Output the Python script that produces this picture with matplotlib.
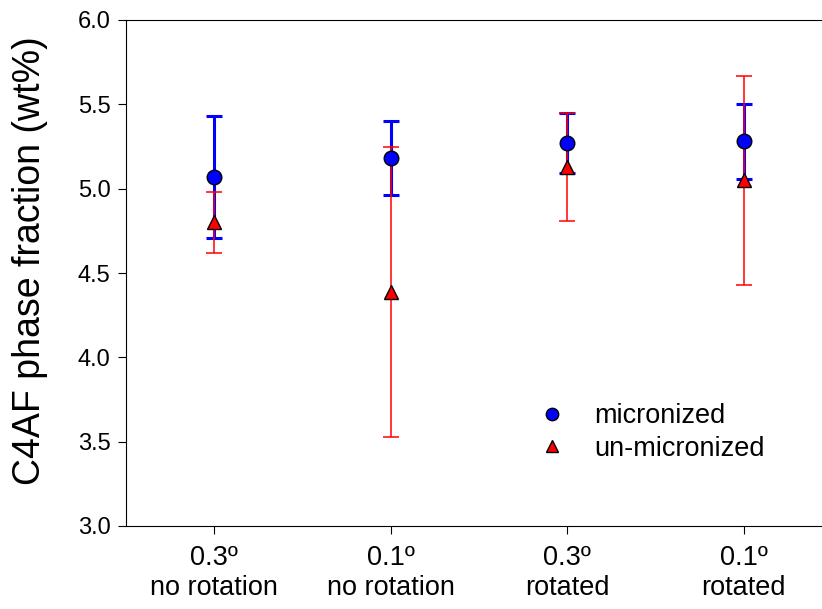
import numpy as np
import matplotlib.pyplot as plt

plt.rcParams['font.family'] = ['Liberation Sans', 'DejaVu Sans']

# data
categories = ['0.3º\nno rotation', '0.1º\nno rotation', '0.3º\nrotated', '0.1º\nrotated']
micronized = [5.07, 5.18, 5.27, 5.28]
micronized_err = [0.36, 0.22, 0.18, 0.22]
unmicronized = [4.80, 4.39, 5.13, 5.05]
unmicronized_err = [0.18, 0.86, 0.32, 0.62]

x = np.arange(1, len(categories) + 1)

fig = plt.figure(figsize=(8.22, 6.09), dpi=100)
ax = fig.add_axes([126 / 822, 83 / 609, 706 / 822, 506 / 609])

ax.errorbar(x, micronized, yerr=micronized_err, fmt='none', ecolor='blue',
            elinewidth=2.2, capsize=6, capthick=2.2, zorder=2)
ax.errorbar(x, unmicronized, yerr=unmicronized_err, fmt='none', ecolor='red',
            elinewidth=1.1, capsize=6, capthick=1.1, zorder=3)
ax.plot(x, micronized, 'o', color='blue', mec='black', mew=1, ms=10.5,
        label='micronized', zorder=4)
ax.plot(x, unmicronized, '^', color='red', mec='black', mew=1, ms=10,
        label='un-micronized', zorder=5)

ax.set_xlim(0.5, 4.5)
ax.set_ylim(3.0, 6.0)
ax.set_yticks(np.arange(3.0, 6.01, 0.5))
ax.set_yticklabels(['%.1f' % v for v in np.arange(3.0, 6.01, 0.5)])
ax.set_xticks(x)
ax.set_xticklabels(categories)
ax.tick_params(length=6, direction='out')
ax.tick_params(axis='y', labelsize=17, pad=5)
ax.tick_params(axis='x', labelsize=19.5, pad=8)
ax.set_ylabel('C4AF phase fraction (wt%)', fontsize=27)
ax.yaxis.set_label_coords(-0.111, 0.525)
ax.spines['right'].set_visible(False)

ax.legend(loc='center left', bbox_to_anchor=(0.54, 0.185), frameon=False,
          fontsize=19.5, handletextpad=0.8, labelspacing=0.25, markerscale=0.85,
          handlelength=1.5)

fig.savefig('out.png', dpi=100)
